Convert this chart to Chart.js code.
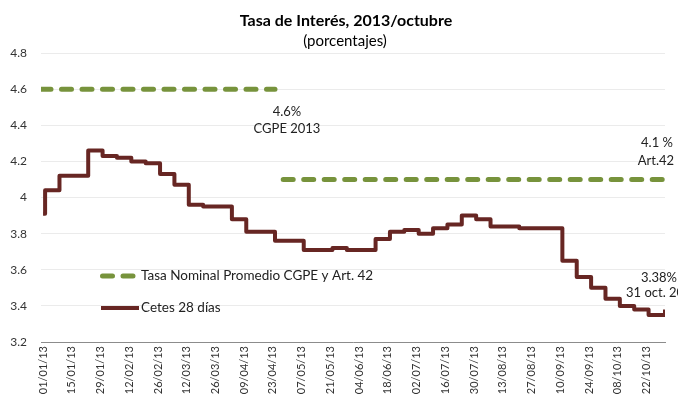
<!DOCTYPE html>
<html>
<head>
<meta charset="utf-8">
<script src="https://cdn.jsdelivr.net/npm/chart.js@4"></script>
<style>
  html, body { margin: 0; padding: 0; background: #fff; }
  #wrap { width: 678px; height: 407px; }
</style>
</head>
<body>
<div id="wrap"><canvas id="grafica" width="678" height="407"></canvas></div>
<script>
// textos
const titulo = 'Tasa de Interés, 2013/octubre';
const subtitulo = '(porcentajes)';
const etiquetaTasa = 'Tasa Nominal Promedio CGPE y Art. 42';
const etiquetaCetes = 'Cetes 28 días';

// Cetes 28 dias: fecha de cambio y nivel
const cetesFechas = [
  '01/01/13', '02/01/13', '09/01/13', '23/01/13', '30/01/13', '06/02/13',
  '13/02/13', '20/02/13', '27/02/13', '06/03/13', '13/03/13', '20/03/13',
  '03/04/13', '10/04/13', '24/04/13', '08/05/13', '22/05/13', '29/05/13',
  '12/06/13', '19/06/13', '26/06/13', '03/07/13', '10/07/13', '17/07/13',
  '24/07/13', '31/07/13', '07/08/13', '21/08/13', '11/09/13', '18/09/13',
  '25/09/13', '02/10/13', '09/10/13', '16/10/13', '23/10/13', '29/10/13',
  '31/10/13'
];
const cetesValores = [
  3.91, 4.04, 4.12, 4.26, 4.23, 4.22,
  4.20, 4.19, 4.13, 4.07, 3.96, 3.95,
  3.88, 3.81, 3.76, 3.71, 3.72, 3.71,
  3.77, 3.81, 3.82, 3.80, 3.83, 3.85,
  3.90, 3.88, 3.84, 3.83, 3.65, 3.56,
  3.50, 3.44, 3.40, 3.38, 3.35, 3.35,
  3.38
];

// Tasa nominal promedio: dos tramos (CGPE 2013 y Art. 42)
const tasaFechas = ['31/12/12', '24/04/13', null, '28/04/13', '31/10/13'];
const tasaValores = [4.6, 4.6, null, 4.1, 4.1];

// etiquetas del eje x: cada 14 dias desde el 1 de enero
const pasoTicks = 14;
const numTicks = 22;

// notas sobre la grafica
const notas = [
  ['4.6%', 287, 112, 'center'],
  ['CGPE 2013', 287, 129, 'center'],
  ['4.1 %', 657, 143, 'center'],
  ['Art.42', 656, 161, 'center'],
  ['3.38%', 677, 278, 'right'],
  ['31 oct. 2013', 626, 293, 'left']
];

const inicio = new Date(2013, 0, 1);
function dia(f) {
  const p = f.split('/');
  const d = new Date(2000 + Number(p[2]), Number(p[1]) - 1, Number(p[0]));
  return Math.round((d - inicio) / 86400000);
}
function fechaTick(n) {
  const d = new Date(2013, 0, 1 + n);
  const dd = String(d.getDate()).padStart(2, '0');
  const mm = String(d.getMonth() + 1).padStart(2, '0');
  return dd + '/' + mm + '/' + String(d.getFullYear()).slice(2);
}

const verde = '#77933c';
const vino = '#672623';
const fuente = 'Lato, "Open Sans", sans-serif';

const rotulos = {
  id: 'rotulos',
  afterDraw(chart) {
    const ctx = chart.ctx;
    ctx.save();
    ctx.fillStyle = '#000';
    ctx.textBaseline = 'middle';
    ctx.textAlign = 'center';
    ctx.font = 'bold 16px ' + fuente;
    ctx.fillText(titulo, 346, 21);
    ctx.font = '15px ' + fuente;
    ctx.fillText(subtitulo, 345, 41);

    ctx.font = '13px ' + fuente;
    ctx.fillStyle = '#222';
    notas.forEach(n => {
      ctx.textAlign = n[3];
      ctx.fillText(n[0], n[1], n[2]);
    });

    // leyenda dentro del area de trazo
    const filas = [276, 308];
    ctx.font = '13.5px ' + fuente;
    chart.data.datasets.forEach((ds, i) => {
      const y = filas[i];
      ctx.strokeStyle = ds.borderColor;
      ctx.lineWidth = ds.borderWidth;
      ctx.lineCap = ds.borderCapStyle || 'butt';
      ctx.setLineDash(ds.borderDash || []);
      ctx.beginPath();
      ctx.moveTo(i === 0 ? 102.5 : 101, y);
      ctx.lineTo(i === 0 ? 135 : 139, y);
      ctx.stroke();
      ctx.setLineDash([]);
      ctx.textAlign = 'left';
      ctx.fillStyle = '#222';
      ctx.fillText(ds.label, 141, y);
    });
    ctx.restore();
  }
};

new Chart(document.getElementById('grafica'), {
  type: 'line',
  data: {
    datasets: [
      {
        label: etiquetaTasa,
        data: tasaFechas.map((f, i) => ({ x: f ? dia(f) : null, y: tasaValores[i] })),
        borderColor: verde,
        borderWidth: 5,
        borderDash: [10, 10.5],
        borderCapStyle: 'round',
        pointRadius: 0,
        spanGaps: false,
        fill: false
      },
      {
        label: etiquetaCetes,
        data: cetesFechas.map((f, i) => ({ x: dia(f), y: cetesValores[i] })),
        borderColor: vino,
        borderWidth: 4,
        borderJoinStyle: 'round',
        stepped: true,
        pointRadius: 0,
        fill: false
      }
    ]
  },
  options: {
    responsive: false,
    animation: false,
    devicePixelRatio: 1,
    layout: { padding: { top: 53, right: 13, left: 0, bottom: 0 } },
    plugins: { legend: { display: false }, title: { display: false }, tooltip: { enabled: false } },
    scales: {
      x: {
        type: 'linear',
        min: -1,
        max: 303,
        afterBuildTicks: s => {
          s.ticks = Array.from({ length: numTicks }, (_, k) => ({ value: k * pasoTicks }));
        },
        afterFit: s => { s.height = 65; },
        ticks: {
          autoSkip: false,
          maxRotation: 90,
          minRotation: 90,
          padding: 4,
          color: '#333',
          font: { family: fuente, size: 11 },
          callback: v => fechaTick(v)
        },
        grid: { display: true, drawOnChartArea: false, drawTicks: false },
        border: { display: true, color: '#8c8c8c', width: 1 }
      },
      y: {
        min: 3.2,
        max: 4.8,
        afterFit: s => { s.width = 41; },
        ticks: {
          stepSize: 0.2,
          padding: 14,
          color: '#333',
          font: { family: fuente, size: 12 },
          callback: v => String(Number(v.toFixed(1)))
        },
        grid: { color: '#ebebeb', drawTicks: false },
        border: { display: false }
      }
    }
  },
  plugins: [rotulos]
});
</script>
</body>
</html>
